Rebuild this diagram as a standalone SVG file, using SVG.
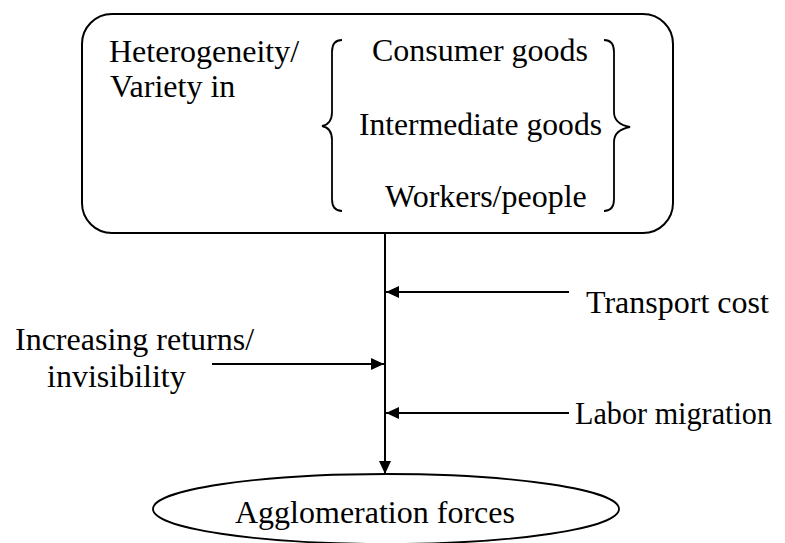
<svg xmlns="http://www.w3.org/2000/svg" width="785" height="543" viewBox="0 0 785 543">
<style>
text{font-family:"Liberation Serif","Times New Roman",serif;font-size:32px;fill:#000}
.s{fill:none;stroke:#000;stroke-width:2}
.b{fill:none;stroke:#000;stroke-width:1.8}
</style>
<defs>
<marker id="ah" markerWidth="13" markerHeight="12" refX="13" refY="6" orient="auto" markerUnits="userSpaceOnUse">
<path d="M0,0 L13,6 L0,12 Z" fill="#000"/>
</marker>
</defs>
<rect width="785" height="543" fill="#fff"/>
<g id="top">
<rect class="s" x="82" y="14" width="591" height="219" rx="30" ry="30"/>
<text x="109" y="62">Heterogeneity/</text>
<text x="110" y="97">Variety in</text>
<path class="b" d="M342,40 Q332,40 332,52 L332,112 Q332,124 322,126 Q332,128 332,140 L332,199 Q332,211 342,211"/>
<path class="b" d="M604,40 Q614,40 614,52 L614,112 Q614,124 630,127 Q614,130 614,142 L614,199 Q614,211 604,211"/>
<text x="372" y="61">Consumer goods</text>
<text x="359" y="135" textLength="243" lengthAdjust="spacingAndGlyphs">Intermediate goods</text>
<text x="385" y="207">Workers/people</text>
</g>
<g id="transport"><text x="586" y="313">Transport cost</text></g>
<g id="returns">
<text x="15" y="350">Increasing returns/</text>
<text x="47" y="387">invisibility</text>
</g>
<g id="labor"><text x="575" y="424" textLength="197" lengthAdjust="spacingAndGlyphs">Labor migration</text></g>
<g id="agglo">
<ellipse class="b" cx="386" cy="509" rx="233" ry="35"/>
<text x="235" y="523">Agglomeration forces</text>
</g>
<g id="connectors">
<line class="s" x1="385" y1="233" x2="385" y2="474" marker-end="url(#ah)"/>
<line class="s" x1="569" y1="292" x2="386" y2="292" marker-end="url(#ah)"/>
<line class="s" x1="212" y1="364" x2="384" y2="364" marker-end="url(#ah)"/>
<line class="s" x1="569" y1="413" x2="386" y2="413" marker-end="url(#ah)"/>
</g>
</svg>
